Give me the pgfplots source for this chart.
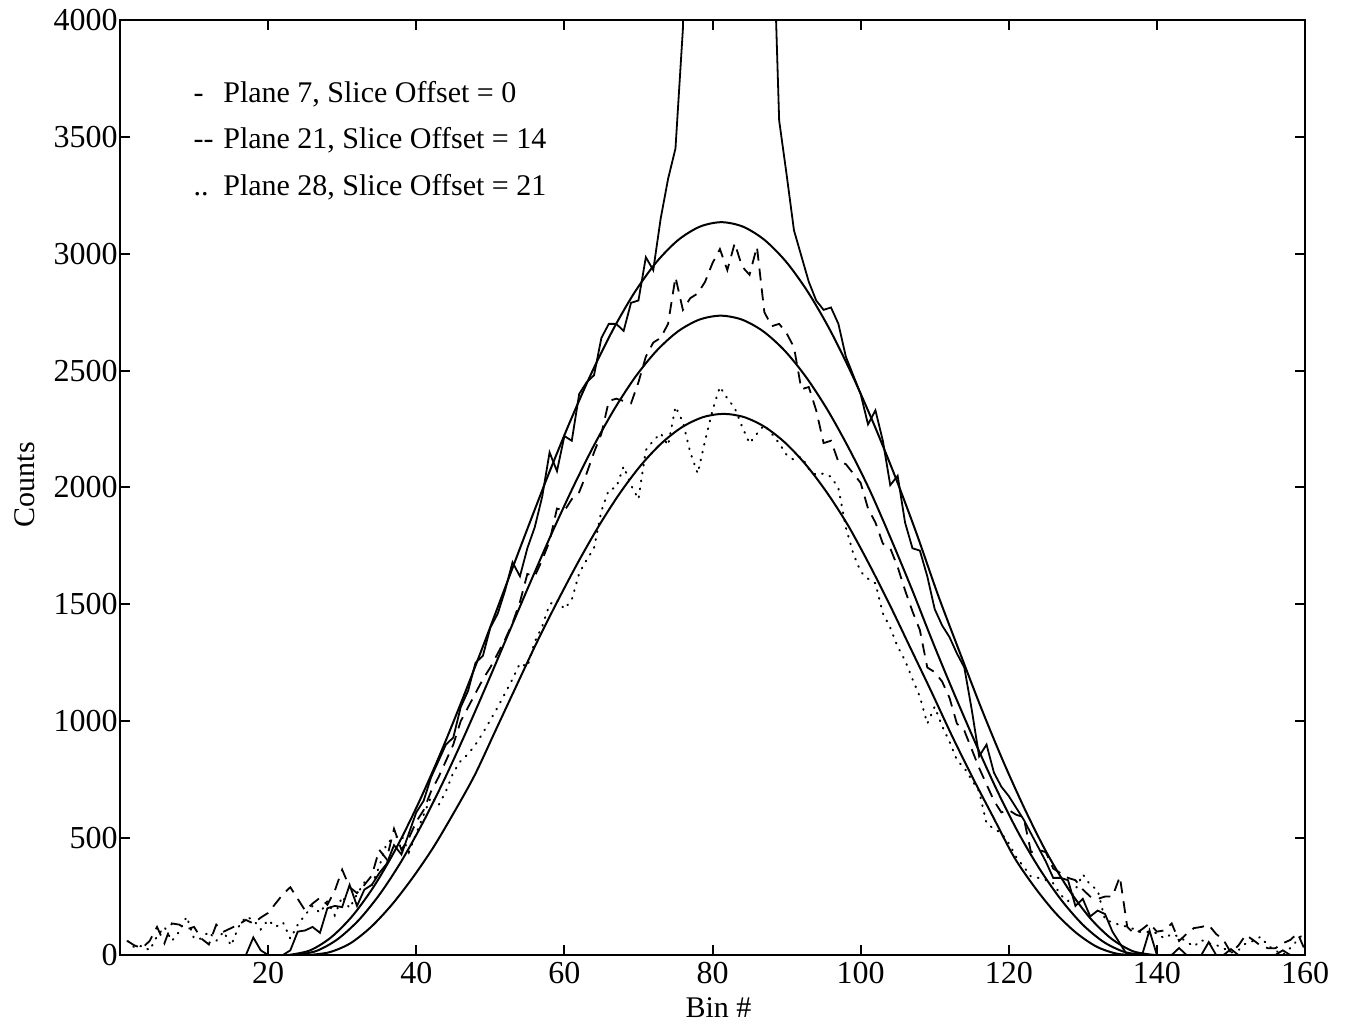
\documentclass[border=0pt]{standalone}
\usepackage{fontspec}
\setmainfont{Liberation Serif}
\usepackage{pgfplots}
\pgfplotsset{compat=1.18}
\begin{document}
\begin{tikzpicture}
\begin{axis}[
 scale only axis, width=592.5pt, height=467.5pt,
 xmin=0, xmax=160, ymin=0, ymax=4000,
 xtick={20,40,...,160}, ytick={0,500,...,4000},
 tick align=inside, major tick length=5pt,
 /pgf/number format/1000 sep={}, /pgf/number format/assume math mode=true,
 tick label style={font=\fontsize{16}{19}\selectfont},
 yticklabel style={inner sep=1pt},
 xlabel={Bin \#}, ylabel={Counts},
 label style={font=\fontsize{15}{18}\selectfont},
 xlabel style={at={(axis description cs:0.505,-0.0567)}, anchor=center},
 ylabel style={at={(axis description cs:-0.080,0.503)}, anchor=center},
 axis line style={line width=1.2pt},
 every tick/.style={line width=1pt, black},
]
% data, plane 7 (solid)
\addplot[black, line width=0.9pt] coordinates {(1,0)(2,0)(3,0)(4,0)(5,0)(6,0)(7,0)(8,0)(9,0)(10,0)(11,0)(12,0)(13,0)(14,0)(15,0)(16,0)(17,0)(18,75)(19,20)(20,0)(21,0)(22,0)(23,20)(24,100)(25,105)(26,120)(27,95)(28,200)(29,210)(30,205)(31,300)(32,210)(33,280)(34,300)(35,350)(36,390)(37,470)(38,430)(39,520)(40,610)(41,660)(42,760)(43,830)(44,900)(45,930)(46,1060)(47,1130)(48,1250)(49,1280)(50,1400)(51,1460)(52,1560)(53,1680)(54,1620)(55,1740)(56,1830)(57,1960)(58,2150)(59,2070)(60,2220)(61,2200)(62,2400)(63,2450)(64,2480)(65,2640)(66,2700)(67,2700)(68,2670)(69,2790)(70,2800)(71,2985)(72,2930)(73,3150)(74,3320)(75,3450)(76,3960)(77,6000)(78,9000)(79,12000)(80,15000)(81,16000)(82,16000)(83,15000)(84,12000)(85,9000)(86,7000)(87,5500)(88,4600)(89,3570)(90,3340)(91,3100)(92,2990)(93,2880)(94,2800)(95,2760)(96,2770)(97,2700)(98,2560)(99,2480)(100,2400)(101,2270)(102,2330)(103,2200)(104,2010)(105,2050)(106,1850)(107,1740)(108,1730)(109,1620)(110,1480)(111,1410)(112,1360)(113,1290)(114,1230)(115,1050)(116,850)(117,900)(118,780)(119,720)(120,680)(121,630)(122,580)(123,520)(124,460)(125,400)(126,330)(127,330)(128,320)(129,210)(130,240)(131,165)(132,190)(133,175)(134,100)(135,50)(136,0)(137,0)(138,0)(139,105)(140,0)(141,0)(142,0)(143,30)(144,0)(145,0)(146,0)(147,55)(148,0)(149,0)(150,25)(151,0)(152,0)(153,0)(154,0)(155,0)(156,0)(157,20)(158,0)(159,0)(160,0)};
% data, plane 21 (dashed)
\addplot[black, line width=0.9pt, dash pattern=on 6pt off 4pt] coordinates {(1,60)(2,40)(3,30)(4,60)(5,120)(6,50)(7,135)(8,130)(9,110)(10,120)(11,70)(12,45)(13,130)(14,100)(15,115)(16,130)(17,150)(18,135)(19,160)(20,180)(21,220)(22,260)(23,290)(24,240)(25,190)(26,220)(27,245)(28,215)(29,275)(30,365)(31,290)(32,265)(33,300)(34,340)(35,450)(36,410)(37,540)(38,450)(39,500)(40,570)(41,620)(42,700)(43,760)(44,830)(45,900)(46,1000)(47,1060)(48,1120)(49,1180)(50,1230)(51,1290)(52,1350)(53,1420)(54,1510)(55,1630)(56,1620)(57,1690)(58,1770)(59,1910)(60,1900)(61,1950)(62,1980)(63,2060)(64,2150)(65,2230)(66,2370)(67,2380)(68,2370)(69,2360)(70,2450)(71,2560)(72,2620)(73,2640)(74,2700)(75,2900)(76,2760)(77,2810)(78,2830)(79,2880)(80,2960)(81,3020)(82,2930)(83,3045)(84,2945)(85,2910)(86,3030)(87,2750)(88,2690)(89,2700)(90,2660)(91,2600)(92,2420)(93,2430)(94,2330)(95,2190)(96,2200)(97,2110)(98,2100)(99,2060)(100,2020)(101,1910)(102,1850)(103,1760)(104,1740)(105,1660)(106,1560)(107,1470)(108,1390)(109,1230)(110,1210)(111,1170)(112,1100)(113,990)(114,960)(115,880)(116,800)(117,730)(118,660)(119,610)(120,620)(121,600)(122,590)(123,440)(124,450)(125,440)(126,370)(127,350)(128,330)(129,320)(130,280)(131,250)(132,240)(133,250)(134,250)(135,335)(136,120)(137,90)(138,110)(139,135)(140,100)(141,105)(142,135)(143,60)(144,90)(145,115)(146,120)(147,128)(148,90)(149,64)(150,10)(151,40)(152,86)(153,64)(154,40)(155,29)(156,29)(157,50)(158,64)(159,93)(160,20)};
% data, plane 28 (dotted)
\addplot[black, line width=1pt, line cap=round, dash pattern=on 0.4pt off 3.6pt] coordinates {(1,60)(2,30)(3,40)(4,20)(5,80)(6,120)(7,60)(8,100)(9,164)(10,70)(11,70)(12,100)(13,60)(14,100)(15,40)(16,120)(17,164)(18,150)(19,110)(20,150)(21,120)(22,140)(23,70)(24,130)(25,171)(26,210)(27,180)(28,230)(29,170)(30,250)(31,200)(32,260)(33,310)(34,300)(35,378)(36,478)(37,500)(38,513)(39,440)(40,520)(41,600)(42,677)(43,640)(44,700)(45,780)(46,830)(47,860)(48,900)(49,950)(50,1005)(51,1060)(52,1120)(53,1180)(54,1248)(55,1233)(56,1340)(57,1405)(58,1500)(59,1520)(60,1480)(61,1520)(62,1633)(63,1690)(64,1740)(65,1900)(66,1990)(67,2000)(68,2090)(69,2010)(70,1950)(71,2160)(72,2200)(73,2232)(74,2180)(75,2346)(76,2280)(77,2150)(78,2060)(79,2200)(80,2330)(81,2431)(82,2381)(83,2340)(84,2260)(85,2189)(86,2230)(87,2267)(88,2230)(89,2189)(90,2140)(91,2118)(92,2132)(93,2080)(94,2053)(95,2060)(96,2046)(97,1997)(98,1830)(99,1718)(100,1640)(101,1610)(102,1590)(103,1462)(104,1400)(105,1319)(106,1260)(107,1180)(108,1105)(109,990)(110,1062)(111,980)(112,912)(113,834)(114,800)(115,749)(116,700)(117,563)(118,540)(119,521)(120,478)(121,420)(122,378)(123,335)(124,330)(125,321)(126,307)(127,257)(128,230)(129,280)(130,345)(131,300)(132,278)(133,150)(134,140)(135,128)(136,121)(137,110)(138,95)(139,100)(140,93)(141,71)(142,90)(143,78)(144,57)(145,36)(146,64)(147,50)(148,43)(149,29)(150,10)(151,20)(152,50)(153,60)(154,78)(155,40)(156,20)(157,0)(158,30)(159,64)(160,100)};
% fits
\addplot[black, line width=1pt, smooth] coordinates {(22.70,0)(25.63,19.3)(28.55,76.7)(31.48,170.9)(34.40,299.4)(37.33,459.1)(40.25,646.2)(43.18,855.9)(46.10,1083.1)(49.03,1322.3)(51.95,1567.5)(54.88,1812.7)(57.80,2051.9)(60.73,2279.1)(63.65,2488.8)(66.58,2675.9)(69.50,2835.6)(72.43,2964.1)(75.35,3058.3)(78.28,3115.7)(81.20,3135)(84.13,3115.7)(87.05,3058.3)(89.98,2964.1)(92.90,2835.6)(95.83,2675.9)(98.75,2488.8)(101.68,2279.1)(104.60,2051.9)(107.53,1805)(110.45,1540)(113.38,1295)(116.30,1055)(119.23,830)(122.15,625)(125.08,440)(128.00,285)(130.93,160)(133.85,70)(136.78,16)(139.70,0)};
\addplot[black, line width=1pt, smooth] coordinates {(23.60,0)(26.48,16.8)(29.35,66.9)(32.23,149.1)(35.10,261.2)(37.98,400.5)(40.85,563.7)(43.73,746.7)(46.60,944.9)(49.48,1153.6)(52.35,1367.5)(55.23,1581.4)(58.10,1790.1)(60.98,1988.3)(63.85,2171.3)(66.73,2334.5)(69.60,2473.8)(72.48,2585.9)(75.35,2668.1)(78.23,2718.2)(81.10,2735)(83.98,2718.2)(86.85,2668.1)(89.73,2585.9)(92.60,2473.8)(95.48,2334.5)(98.35,2171.3)(101.23,1988.3)(104.10,1780)(106.98,1560)(109.85,1330)(112.73,1110)(115.60,900)(118.48,700)(121.35,520)(124.23,365)(127.10,235)(129.98,130)(132.85,55)(135.73,12)(138.60,0)};
\addplot[black, line width=1pt, smooth] coordinates {(25.5,0)(28.3,12)(31.1,50)(33.9,120)(36.7,215)(39.5,330)(42.3,460)(45.1,610)(47.9,770)(50.7,960)(53.5,1150)(56.3,1338.6)(59.1,1515.2)(61.9,1683.0)(64.7,1837.9)(67.5,1976.0)(70.3,2093.9)(73.1,2188.8)(75.9,2258.4)(78.7,2300.7)(81.5,2315)(84.3,2300.7)(87.1,2258.4)(89.9,2188.8)(92.7,2093.9)(95.5,1976.0)(98.3,1837.9)(101.1,1675)(103.9,1500)(106.7,1315)(109.5,1130)(112.3,940)(115.1,760)(117.9,590)(120.7,420)(123.5,290)(126.3,180)(129.1,95)(131.9,35)(134.7,5)(137.5,0)};
% annotation
\node[anchor=base west, font=\fontsize{15}{18}\selectfont, inner sep=0pt] at (axis cs:9.9,3645) {-};
\node[anchor=base west, font=\fontsize{15}{18}\selectfont, inner sep=0pt] at (axis cs:9.9,3452) {-{}-};
\node[anchor=base west, font=\fontsize{15}{18}\selectfont, inner sep=0pt] at (axis cs:9.9,3251) {..};
\node[anchor=base west, font=\fontsize{15}{18}\selectfont, inner sep=0pt] at (axis cs:13.9,3645) {Plane 7, Slice Offset = 0};
\node[anchor=base west, font=\fontsize{15}{18}\selectfont, inner sep=0pt] at (axis cs:13.9,3452) {Plane 21, Slice Offset = 14};
\node[anchor=base west, font=\fontsize{15}{18}\selectfont, inner sep=0pt] at (axis cs:13.9,3251) {Plane 28, Slice Offset = 21};
\end{axis}
\pgfresetboundingbox
\path ([shift={(-60pt,-36.5pt)}]current axis.south west) rectangle ([shift={(20pt,10pt)}]current axis.north east);
\end{tikzpicture}
\end{document}
